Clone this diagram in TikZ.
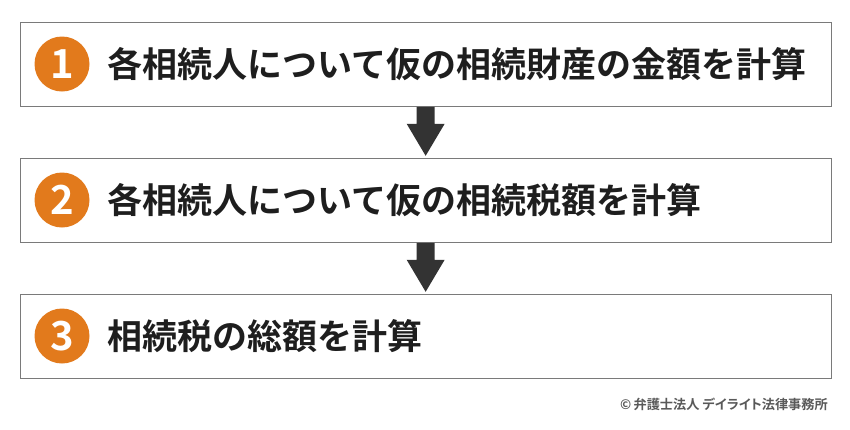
\documentclass[tikz,border=0pt]{standalone}
\usepackage{fontspec}
\newfontfamily\jpb{Noto Sans CJK JP Bold}
\newfontfamily\jpp[RawFeature=+palt]{Noto Sans CJK JP Bold}
\definecolor{orng}{HTML}{E27A1C}
\definecolor{boxline}{HTML}{7A7A7A}
\definecolor{txt}{HTML}{1E1E1E}
\definecolor{arr}{HTML}{333333}
\begin{document}
\begin{tikzpicture}[x=1pt,y=-1pt,
  stepbox/.style={draw=boxline,line width=1.3pt,minimum width=811pt,minimum height=84pt,anchor=north west,inner sep=0pt},
  numc/.style={circle,fill=orng,minimum size=55pt,inner sep=0pt,text=white,font=\jpb\fontsize{40}{40}\selectfont},
  lbl/.style={anchor=west,text=txt,inner sep=0pt,font=\jpb\fontsize{35}{35}\selectfont},
  downarrow/.style={fill=arr,draw=none}]
\useasboundingbox (0,0) rectangle (850,429);
\node[stepbox] (b1) at (19.5,21.5) {};
\node[stepbox] (b2) at (19.5,157.5) {};
\node[stepbox] (b3) at (19.5,293.5) {};
\node[numc] (n1) at (62,64) {1};
\node[numc] (n2) at (62,200) {2};
\node[numc] (n3) at (62,336) {3};
\node[lbl] (t1) at (107,64) {各相続人について仮の相続財産の金額を計算};
\node[lbl] (t2) at (107,200) {各相続人について仮の相続税額を計算};
\node[lbl] (t3) at (107,336) {相続税の総額を計算};
\fill[downarrow] (b1.south) ++(-9,0) -- ++(0,17) -- ++(-10,0) -- ++(19,32) -- ++(19,-32) -- ++(-10,0) -- ++(0,-17) -- cycle;
\fill[downarrow] (b2.south) ++(-9,0) -- ++(0,17) -- ++(-10,0) -- ++(19,32) -- ++(19,-32) -- ++(-10,0) -- ++(0,-17) -- cycle;
\node[anchor=east,inner sep=0pt,text=black!65,font=\jpp\fontsize{13.2}{13.2}\selectfont] (cr) at (828,404) {©\,弁護士法人 デイライト法律事務所};
\end{tikzpicture}
\end{document}
